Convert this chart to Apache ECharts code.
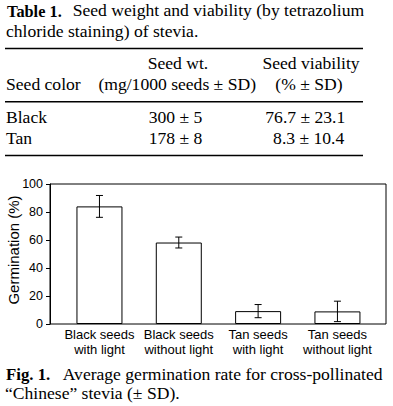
<!DOCTYPE html>
<html>
<head>
<meta charset="utf-8">
<script src="https://cdn.jsdelivr.net/npm/echarts@6/dist/echarts.min.js"></script>
<style>
html,body{margin:0;padding:0;background:#fff;}
#c{width:393px;height:406px;}
</style>
</head>
<body>
<div id="c"></div>
<script>
// ---- Data ----
const categories = ['Black seeds\nwith light', 'Black seeds\nwithout light', 'Tan seeds\nwith light', 'Tan seeds\nwithout light'];
const germination = [84, 58.2, 9.2, 9.0];
const germinationSD = [7.8, 3.9, 4.7, 7.3];
const yMin = 0, yMax = 100, yInterval = 20;
const yAxisTitle = 'Germination (%)';

const tableTitle = ['Table 1.', 'Seed weight and viability (by tetrazolium', 'chloride staining) of stevia.'];
const tableHead1 = ['', 'Seed wt.', 'Seed viability'];
const tableHead2 = ['Seed color', '(mg/1000 seeds \u00b1 SD)', '(% \u00b1 SD)'];
const seedColors = ['Black', 'Tan'];
const seedWeight = ['300 \u00b1 5', '178 \u00b1 8'];
const seedViability = ['76.7 \u00b1 23.1', '8.3 \u00b1 10.4'];
const figCaption = ['Fig. 1.', 'Average germination rate for cross-pollinated', '\u201cChinese\u201d stevia (\u00b1 SD).'];

// ---- Layout helpers ----
const SERIF = 'Liberation Serif';
const SANS = 'Arial';
const FS = 16, SX = 1.1;
function txt(text, x, baseline, align, bold, sx) {
  return {
    type: 'text', x: x, y: baseline - 5.5, scaleX: sx || SX, silent: true,
    style: { text: text, x: 0, y: 0, fill: '#000', align: align || 'left', verticalAlign: 'middle',
      fontSize: FS, fontFamily: SERIF, fontWeight: bold ? 'bold' : 'normal' }
  };
}
function rule(y) {
  return { type: 'line', silent: true, shape: { x1: 5, y1: y, x2: 363, y2: y }, style: { stroke: '#000', lineWidth: 1.6 } };
}

const graphics = [
  txt(tableTitle[0], 7, 16.7, 'left', true, 1.02),
  txt(tableTitle[1], 72.7, 16.7),
  txt(tableTitle[2], 6, 37.2),
  rule(48.5),
  txt(tableHead1[1], 178, 69.5, 'center'),
  txt(tableHead1[2], 311, 69.5, 'center'),
  txt(tableHead2[0], 6, 90.7),
  txt(tableHead2[1], 177.2, 90.7, 'center'),
  txt(tableHead2[2], 309, 90.7, 'center'),
  rule(101.7),
  txt(seedColors[0], 6, 123.3),
  txt(seedWeight[0], 175.5, 123.3, 'center'),
  txt(seedViability[0], 305.3, 123.3, 'center'),
  txt(seedColors[1], 6, 144.3),
  txt(seedWeight[1], 175.5, 144.3, 'center'),
  txt(seedViability[1], 308.7, 144.3, 'center'),
  rule(155.5),
  txt(figCaption[0], 6, 380, 'left', true, 1.05),
  txt(figCaption[1], 62.7, 380),
  txt(figCaption[2], 5, 399),
  { type: 'text', x: 13.5, y: 250, rotation: Math.PI / 2, silent: true,
    style: { text: yAxisTitle, x: 0, y: 0, fill: '#000', align: 'center', verticalAlign: 'middle',
      fontSize: 15, fontFamily: SANS } }
];

const chart = echarts.init(document.getElementById('c'), null, { renderer: 'svg', width: 393, height: 406 });
chart.setOption({
  animation: false,
  backgroundColor: '#fff',
  graphic: { elements: graphics },
  grid: [
    { left: 50, top: 184, width: 336, height: 140, show: true, borderColor: '#000', borderWidth: 1, backgroundColor: 'transparent' },
    { left: 59.8, top: 184, width: 317.3, height: 140 }
  ],
  xAxis: [
    { type: 'value', gridIndex: 0, show: false, min: 0, max: 1 },
    { type: 'category', gridIndex: 1, data: categories,
      axisLine: { show: false }, axisTick: { show: false },
      axisLabel: { interval: 0, margin: 3, color: '#000', fontFamily: SANS, fontSize: 13, lineHeight: 15 } }
  ],
  yAxis: [
    { type: 'value', gridIndex: 0, min: yMin, max: yMax, interval: yInterval,
      axisLine: { show: true, lineStyle: { color: '#000', width: 1 } },
      axisTick: { show: true, inside: false, length: 4, lineStyle: { color: '#000', width: 1 } },
      axisLabel: { margin: 7, color: '#000', fontFamily: SANS, fontSize: 12.5 },
      splitLine: { show: false } },
    { type: 'value', gridIndex: 1, min: yMin, max: yMax, show: false, splitLine: { show: false } }
  ],
  series: [
    { type: 'bar', xAxisIndex: 1, yAxisIndex: 1, data: germination, barWidth: 46,
      itemStyle: { color: '#fff', borderColor: '#000', borderWidth: 1 }, silent: true },
    { type: 'custom', xAxisIndex: 1, yAxisIndex: 1, silent: true,
      data: germination.map((v, i) => [i, v - germinationSD[i], v + germinationSD[i]]),
      encode: { x: 0, y: [1, 2] },
      renderItem: function (params, api) {
        const i = api.value(0);
        const lo = api.coord([i, api.value(1)]);
        const hi = api.coord([i, api.value(2)]);
        const hw = 3.5;
        const st = { stroke: '#000', lineWidth: 1 };
        return { type: 'group', children: [
          { type: 'line', shape: { x1: lo[0], y1: lo[1], x2: hi[0], y2: hi[1] }, style: st },
          { type: 'line', shape: { x1: hi[0] - hw, y1: hi[1], x2: hi[0] + hw, y2: hi[1] }, style: st },
          { type: 'line', shape: { x1: lo[0] - hw, y1: lo[1], x2: lo[0] + hw, y2: lo[1] }, style: st }
        ]};
      },
      z: 5 }
  ]
});
</script>
</body>
</html>
